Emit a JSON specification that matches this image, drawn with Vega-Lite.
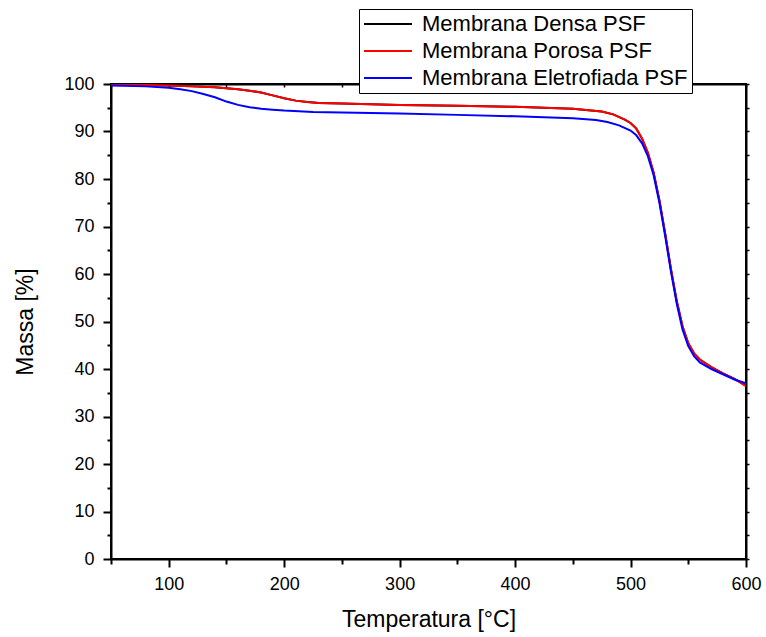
{
  "$schema": "https://vega.github.io/schema/vega-lite/v6.json",
  "autosize": {"type": "none"},
  "width": 635,
  "height": 475,
  "padding": {"left": 111, "top": 84, "right": 20, "bottom": 78},
  "background": "white",
  "config": {
    "font": "Liberation Sans",
    "view": {"stroke": "black", "strokeWidth": 2},
    "axis": {"grid": false, "domainColor": "black", "domainWidth": 2, "tickColor": "black", "tickWidth": 2, "labelColor": "black", "titleColor": "black", "labelFont": "Liberation Sans", "titleFont": "Liberation Sans", "labelFontSize": 18, "titleFontSize": 23, "titleFontWeight": "normal"}
  },
  "data": {"values": [
    {"s": "Membrana Densa PSF", "t": 50, "m": 99.9}, {"s": "Membrana Densa PSF", "t": 80, "m": 99.8}, {"s": "Membrana Densa PSF", "t": 100, "m": 99.7}, {"s": "Membrana Densa PSF", "t": 120, "m": 99.5}, {"s": "Membrana Densa PSF", "t": 140, "m": 99.3}, {"s": "Membrana Densa PSF", "t": 160, "m": 98.9}, {"s": "Membrana Densa PSF", "t": 170, "m": 98.6}, {"s": "Membrana Densa PSF", "t": 180, "m": 98.2}, {"s": "Membrana Densa PSF", "t": 190, "m": 97.6}, {"s": "Membrana Densa PSF", "t": 200, "m": 97.0}, {"s": "Membrana Densa PSF", "t": 210, "m": 96.5}, {"s": "Membrana Densa PSF", "t": 220, "m": 96.2}, {"s": "Membrana Densa PSF", "t": 230, "m": 96.0}, {"s": "Membrana Densa PSF", "t": 250, "m": 95.9}, {"s": "Membrana Densa PSF", "t": 300, "m": 95.6}, {"s": "Membrana Densa PSF", "t": 350, "m": 95.4}, {"s": "Membrana Densa PSF", "t": 400, "m": 95.2}, {"s": "Membrana Densa PSF", "t": 450, "m": 94.8}, {"s": "Membrana Densa PSF", "t": 475, "m": 94.2}, {"s": "Membrana Densa PSF", "t": 485, "m": 93.6}, {"s": "Membrana Densa PSF", "t": 495, "m": 92.5}, {"s": "Membrana Densa PSF", "t": 500, "m": 91.8}, {"s": "Membrana Densa PSF", "t": 505, "m": 90.6}, {"s": "Membrana Densa PSF", "t": 510, "m": 88.5}, {"s": "Membrana Densa PSF", "t": 515, "m": 85.5}, {"s": "Membrana Densa PSF", "t": 520, "m": 81.3}, {"s": "Membrana Densa PSF", "t": 525, "m": 75.5}, {"s": "Membrana Densa PSF", "t": 530, "m": 68.5}, {"s": "Membrana Densa PSF", "t": 535, "m": 61.0}, {"s": "Membrana Densa PSF", "t": 540, "m": 54.3}, {"s": "Membrana Densa PSF", "t": 545, "m": 49.0}, {"s": "Membrana Densa PSF", "t": 550, "m": 45.4}, {"s": "Membrana Densa PSF", "t": 555, "m": 43.3}, {"s": "Membrana Densa PSF", "t": 560, "m": 42.0}, {"s": "Membrana Densa PSF", "t": 570, "m": 40.4}, {"s": "Membrana Densa PSF", "t": 580, "m": 39.1}, {"s": "Membrana Densa PSF", "t": 590, "m": 37.9}, {"s": "Membrana Densa PSF", "t": 600, "m": 36.5},
    {"s": "Membrana Porosa PSF", "t": 50, "m": 99.9}, {"s": "Membrana Porosa PSF", "t": 80, "m": 99.8}, {"s": "Membrana Porosa PSF", "t": 100, "m": 99.7}, {"s": "Membrana Porosa PSF", "t": 120, "m": 99.5}, {"s": "Membrana Porosa PSF", "t": 140, "m": 99.3}, {"s": "Membrana Porosa PSF", "t": 160, "m": 98.9}, {"s": "Membrana Porosa PSF", "t": 170, "m": 98.6}, {"s": "Membrana Porosa PSF", "t": 180, "m": 98.2}, {"s": "Membrana Porosa PSF", "t": 190, "m": 97.6}, {"s": "Membrana Porosa PSF", "t": 200, "m": 97.0}, {"s": "Membrana Porosa PSF", "t": 210, "m": 96.5}, {"s": "Membrana Porosa PSF", "t": 220, "m": 96.2}, {"s": "Membrana Porosa PSF", "t": 230, "m": 96.0}, {"s": "Membrana Porosa PSF", "t": 250, "m": 95.9}, {"s": "Membrana Porosa PSF", "t": 300, "m": 95.6}, {"s": "Membrana Porosa PSF", "t": 350, "m": 95.4}, {"s": "Membrana Porosa PSF", "t": 400, "m": 95.2}, {"s": "Membrana Porosa PSF", "t": 450, "m": 94.8}, {"s": "Membrana Porosa PSF", "t": 475, "m": 94.2}, {"s": "Membrana Porosa PSF", "t": 485, "m": 93.6}, {"s": "Membrana Porosa PSF", "t": 495, "m": 92.5}, {"s": "Membrana Porosa PSF", "t": 500, "m": 91.8}, {"s": "Membrana Porosa PSF", "t": 505, "m": 90.6}, {"s": "Membrana Porosa PSF", "t": 510, "m": 88.5}, {"s": "Membrana Porosa PSF", "t": 515, "m": 85.5}, {"s": "Membrana Porosa PSF", "t": 520, "m": 81.3}, {"s": "Membrana Porosa PSF", "t": 525, "m": 75.5}, {"s": "Membrana Porosa PSF", "t": 530, "m": 68.5}, {"s": "Membrana Porosa PSF", "t": 535, "m": 61.0}, {"s": "Membrana Porosa PSF", "t": 540, "m": 54.3}, {"s": "Membrana Porosa PSF", "t": 545, "m": 49.0}, {"s": "Membrana Porosa PSF", "t": 550, "m": 45.4}, {"s": "Membrana Porosa PSF", "t": 555, "m": 43.3}, {"s": "Membrana Porosa PSF", "t": 560, "m": 42.0}, {"s": "Membrana Porosa PSF", "t": 570, "m": 40.4}, {"s": "Membrana Porosa PSF", "t": 580, "m": 39.1}, {"s": "Membrana Porosa PSF", "t": 590, "m": 37.9}, {"s": "Membrana Porosa PSF", "t": 600, "m": 36.4},
    {"s": "Membrana Eletrofiada PSF", "t": 50, "m": 99.7}, {"s": "Membrana Eletrofiada PSF", "t": 80, "m": 99.5}, {"s": "Membrana Eletrofiada PSF", "t": 100, "m": 99.2}, {"s": "Membrana Eletrofiada PSF", "t": 110, "m": 98.9}, {"s": "Membrana Eletrofiada PSF", "t": 120, "m": 98.5}, {"s": "Membrana Eletrofiada PSF", "t": 130, "m": 97.9}, {"s": "Membrana Eletrofiada PSF", "t": 140, "m": 97.2}, {"s": "Membrana Eletrofiada PSF", "t": 150, "m": 96.3}, {"s": "Membrana Eletrofiada PSF", "t": 160, "m": 95.6}, {"s": "Membrana Eletrofiada PSF", "t": 170, "m": 95.1}, {"s": "Membrana Eletrofiada PSF", "t": 180, "m": 94.8}, {"s": "Membrana Eletrofiada PSF", "t": 190, "m": 94.6}, {"s": "Membrana Eletrofiada PSF", "t": 200, "m": 94.4}, {"s": "Membrana Eletrofiada PSF", "t": 225, "m": 94.1}, {"s": "Membrana Eletrofiada PSF", "t": 250, "m": 94.0}, {"s": "Membrana Eletrofiada PSF", "t": 300, "m": 93.8}, {"s": "Membrana Eletrofiada PSF", "t": 350, "m": 93.5}, {"s": "Membrana Eletrofiada PSF", "t": 400, "m": 93.2}, {"s": "Membrana Eletrofiada PSF", "t": 450, "m": 92.8}, {"s": "Membrana Eletrofiada PSF", "t": 470, "m": 92.4}, {"s": "Membrana Eletrofiada PSF", "t": 480, "m": 92.0}, {"s": "Membrana Eletrofiada PSF", "t": 490, "m": 91.3}, {"s": "Membrana Eletrofiada PSF", "t": 500, "m": 90.2}, {"s": "Membrana Eletrofiada PSF", "t": 505, "m": 89.2}, {"s": "Membrana Eletrofiada PSF", "t": 510, "m": 87.5}, {"s": "Membrana Eletrofiada PSF", "t": 515, "m": 84.8}, {"s": "Membrana Eletrofiada PSF", "t": 520, "m": 80.8}, {"s": "Membrana Eletrofiada PSF", "t": 525, "m": 75.0}, {"s": "Membrana Eletrofiada PSF", "t": 530, "m": 68.0}, {"s": "Membrana Eletrofiada PSF", "t": 535, "m": 60.5}, {"s": "Membrana Eletrofiada PSF", "t": 540, "m": 53.8}, {"s": "Membrana Eletrofiada PSF", "t": 545, "m": 48.3}, {"s": "Membrana Eletrofiada PSF", "t": 550, "m": 44.8}, {"s": "Membrana Eletrofiada PSF", "t": 555, "m": 42.7}, {"s": "Membrana Eletrofiada PSF", "t": 560, "m": 41.4}, {"s": "Membrana Eletrofiada PSF", "t": 570, "m": 40.0}, {"s": "Membrana Eletrofiada PSF", "t": 580, "m": 38.9}, {"s": "Membrana Eletrofiada PSF", "t": 590, "m": 37.8}, {"s": "Membrana Eletrofiada PSF", "t": 600, "m": 37.0}
  ]},
  "layer": [
    {
      "mark": {"type": "line", "strokeWidth": 2, "clip": true},
      "encoding": {
        "x": {"field": "t", "type": "quantitative", "scale": {"domain": [50, 600], "nice": false, "zero": false},
          "axis": {"title": "Temperatura [°C]", "values": [50, 100, 150, 200, 250, 300, 350, 400, 450, 500, 550, 600],
            "labelExpr": "datum.value % 100 === 0 ? datum.label : ''",
            "tickSize": {"condition": {"test": "datum.value % 100 === 0", "value": 8}, "value": 5},
            "labelPadding": 8, "titlePadding": 15, "labelFlush": false}},
        "y": {"field": "m", "type": "quantitative", "scale": {"domain": [0, 100], "nice": false},
          "axis": {"title": "Massa [%]", "values": [0, 5, 10, 15, 20, 25, 30, 35, 40, 45, 50, 55, 60, 65, 70, 75, 80, 85, 90, 95, 100],
            "labelExpr": "datum.value % 10 === 0 ? datum.label : ''",
            "tickSize": {"condition": {"test": "datum.value % 10 === 0", "value": 8}, "value": 4},
            "labelPadding": 9, "titlePadding": 26}},
        "color": {"field": "s", "type": "nominal",
          "scale": {"domain": ["Membrana Densa PSF", "Membrana Porosa PSF", "Membrana Eletrofiada PSF"], "range": ["#000000", "#FF0000", "#0000FF"]},
          "sort": ["Membrana Densa PSF", "Membrana Porosa PSF", "Membrana Eletrofiada PSF"],
          "legend": {"title": null, "orient": "none", "legendX": 248, "legendY": -75, "symbolType": "M-2.4,0H2.4", "symbolSize": 400, "symbolStrokeWidth": 2, "symbolOffset": 14,
            "labelFontSize": 22, "labelFont": "Liberation Sans", "labelColor": "black", "labelLimit": 400, "strokeColor": "black", "fillColor": "white", "padding": 4, "rowPadding": 5, "labelOffset": 23}}
      }
    },
    {
      "mark": {"type": "line", "opacity": 0},
      "encoding": {
        "x": {"field": "t", "type": "quantitative", "scale": {"domain": [50, 600], "nice": false, "zero": false},
          "axis": {"orient": "top", "title": null, "labels": false, "values": [50, 100, 150, 200, 250, 300, 350, 400, 450, 500, 550, 600], "tickSize": -3, "tickWidth": 1.5}},
        "y": {"field": "m", "type": "quantitative", "scale": {"domain": [0, 100], "nice": false},
          "axis": {"orient": "right", "title": null, "labels": false, "values": [0, 5, 10, 15, 20, 25, 30, 35, 40, 45, 50, 55, 60, 65, 70, 75, 80, 85, 90, 95, 100], "tickSize": 3, "tickWidth": 1.5}},
        "detail": {"field": "s"}
      }
    }
  ],
  "resolve": {"axis": {"x": "independent", "y": "independent"}}
}
